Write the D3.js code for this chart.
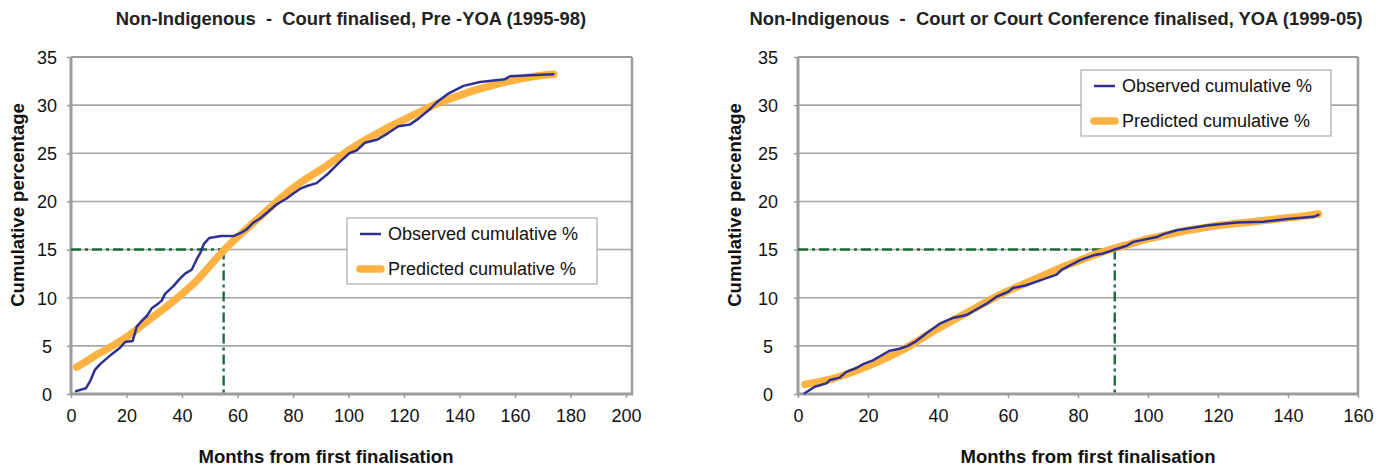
<!DOCTYPE html>
<html><head><meta charset="utf-8">
<script src="https://cdn.jsdelivr.net/npm/d3@7"></script>
<style>body{margin:0;background:#fff}svg{display:block}</style>
</head><body>
<svg id="c" width="1386" height="466"></svg>
<script>
// ---------- DATA ----------
const leftTitle = "Non-Indigenous  -  Court finalised, Pre -YOA (1995-98)";
const rightTitle = "Non-Indigenous  -  Court or Court Conference finalised, YOA (1999-05)";
const xLabel = "Months from first finalisation";
const yLabel = "Cumulative percentage";
const seriesNames = ["Observed cumulative %", "Predicted cumulative %"];

const leftXTicks = [0, 20, 40, 60, 80, 100, 120, 140, 160, 180, 200];
const rightXTicks = [0, 20, 40, 60, 80, 100, 120, 140, 160];
const yTicks = [0, 5, 10, 15, 20, 25, 30, 35];

const leftObsMonths = [1.8,5.4,7,8.6,10.5,12.9,15,17.7,19.5,22.2,23.7,25.5,27.3,29.1,31,32.7,33.9,36.9,39,41.1,43.5,45.3,46.5,47.9,49.8,54,58.5,61,63.3,65.7,68,70.5,74.1,77.7,80,82.5,85,88.5,92.7,96.9,100.3,103,105.9,110.2,114.3,118,122.2,125.2,129.4,131.8,136,141.4,147.4,156.4,158.2,165.4,173.8];
const leftObsValues = [0.3,0.6,1.4,2.5,3.1,3.7,4.2,4.8,5.4,5.5,7.0,7.6,8.1,8.9,9.3,9.7,10.4,11.2,11.9,12.5,12.9,14.0,14.6,15.6,16.2,16.4,16.4,16.7,17.1,17.8,18.2,18.8,19.7,20.3,20.8,21.3,21.6,21.9,22.9,24.1,25.0,25.3,26.1,26.4,27.1,27.8,28.0,28.6,29.6,30.3,31.2,32.0,32.4,32.7,33.0,33.1,33.2];
const leftPredMonths = [2,5,10,15,20,25,30,35,40,45,50,55,60,65,70,75,80,85,90,95,100,105,110,115,120,125,130,135,140,145,150,155,160,165,170,174];
const leftPredValues = [2.8,3.3,4.2,5.0,5.9,7.0,8.1,9.2,10.4,11.7,13.3,14.9,16.3,17.6,18.9,20.2,21.4,22.4,23.3,24.3,25.3,26.2,27.0,27.8,28.5,29.2,29.9,30.5,31.0,31.5,31.9,32.3,32.6,32.9,33.1,33.2];

const rightObsMonths = [1.9,4.8,8.1,9.1,11.9,13.8,16.7,18.6,21.4,23.8,26.2,29,31.4,33.8,36.7,40.5,44.3,48.1,51,53.8,56.7,60,61.4,65.2,70,73.9,75.3,80.6,84.4,87.2,90.1,93.9,95.8,102.5,104.4,108.2,116.8,125.3,133,140.6,147.2,148.7];
const rightObsValues = [0.07,0.76,1.1,1.45,1.7,2.3,2.7,3.1,3.5,4.0,4.5,4.7,5.0,5.5,6.3,7.3,7.9,8.2,8.8,9.35,10.1,10.6,11.0,11.3,11.9,12.4,12.9,13.9,14.4,14.6,14.95,15.4,15.8,16.3,16.6,17.0,17.5,17.8,17.9,18.2,18.4,18.6];
const rightPredMonths = [2,5,10,15,20,25,30,35,40,45,50,55,60,65,70,75,80,85,90,95,100,105,110,115,120,125,130,135,140,145,148.7];
const rightPredValues = [1.0,1.2,1.6,2.2,2.9,3.7,4.6,5.7,6.8,7.8,8.8,9.8,10.7,11.5,12.3,13.1,13.8,14.5,15.1,15.6,16.1,16.5,16.9,17.2,17.5,17.7,17.9,18.1,18.3,18.5,18.7];

const refLevel = 15;
const leftRefMonth = 55;
const rightRefMonth = 90.5;

// ---------- DRAW ----------
const svg = d3.select("#c");
const FONT = "Arial, 'Liberation Sans', sans-serif";
const C_OBS = "#2e3192", C_PRED = "#fdb241", C_REF = "#1d6b3a", C_GRID = "#a6a6a6", C_AXIS = "#9c9c9c";

function chart(cfg) {
  const x = d3.scaleLinear().domain([0, cfg.xMax]).range([cfg.x0, cfg.x1]);
  const y = d3.scaleLinear().domain([0, 35]).range([394, 57]);
  const g = svg.append("g");

  // gridlines
  g.append("g").selectAll("line").data(yTicks.filter(d => d > 0)).join("line")
    .attr("x1", cfg.x0).attr("x2", cfg.xr).attr("y1", d => y(d)).attr("y2", d => y(d))
    .attr("stroke", C_GRID).attr("stroke-width", 1.6);
  // right / top border
  g.append("line").attr("x1", cfg.xr).attr("x2", cfg.xr).attr("y1", y(35)).attr("y2", y(0))
    .attr("stroke", C_AXIS).attr("stroke-width", 2.5);
  g.append("line").attr("x1", cfg.x0).attr("x2", cfg.xr).attr("y1", y(35)).attr("y2", y(35))
    .attr("stroke", C_AXIS).attr("stroke-width", 2);

  // axes
  const xa = g.append("g").attr("transform", `translate(0,${y(0)})`)
    .call(d3.axisBottom(x).tickValues(cfg.xTicks).tickSize(4).tickPadding(10).tickFormat(d3.format("d")));
  xa.select(".domain").remove();
  xa.selectAll(".tick line").attr("stroke", C_AXIS).attr("stroke-width", 1.5);
  xa.selectAll("text").attr("font-family", FONT).attr("font-size", 18).attr("fill", "#111").attr("dy", "0.78em");
  g.append("line").attr("x1", cfg.x0 - 1).attr("x2", cfg.xr + 1).attr("y1", y(0)).attr("y2", y(0))
    .attr("stroke", C_AXIS).attr("stroke-width", 3);

  const ya = g.append("g").attr("transform", `translate(${cfg.x0},0)`)
    .call(d3.axisLeft(y).tickValues(yTicks).tickSize(4).tickFormat(d3.format("d")));
  ya.select(".domain").remove();
  ya.selectAll(".tick line").attr("stroke", C_AXIS).attr("stroke-width", 1.5);
  ya.selectAll("text").attr("font-family", FONT).attr("font-size", 18).attr("fill", "#111")
    .attr("text-anchor", "middle").attr("x", cfg.yLabX - cfg.x0).attr("dy", "0.35em");
  g.append("line").attr("x1", cfg.x0).attr("x2", cfg.x0).attr("y1", y(35)).attr("y2", y(0) + 1)
    .attr("stroke", C_AXIS).attr("stroke-width", 3);

  // reference dashed lines
  const dash = "10,4,3,4";
  g.append("line").attr("x1", x(0)).attr("x2", x(cfg.refMonth)).attr("y1", y(refLevel)).attr("y2", y(refLevel))
    .attr("stroke", C_REF).attr("stroke-width", 2.4).attr("stroke-dasharray", dash);
  g.append("line").attr("x1", x(cfg.refMonth)).attr("x2", x(cfg.refMonth)).attr("y1", y(refLevel)).attr("y2", y(0))
    .attr("stroke", C_REF).attr("stroke-width", 2.4).attr("stroke-dasharray", dash);

  // series
  const pred = cfg.predM.map((m, i) => [m, cfg.predV[i]]);
  const obs = cfg.obsM.map((m, i) => [m, cfg.obsV[i]]);
  g.append("path").datum(pred)
    .attr("d", d3.line().x(d => x(d[0])).y(d => y(d[1])).curve(d3.curveMonotoneX))
    .attr("fill", "none").attr("stroke", C_PRED).attr("stroke-width", 7.5)
    .attr("stroke-linecap", "round").attr("stroke-linejoin", "round");
  g.append("path").datum(obs)
    .attr("d", d3.line().x(d => x(d[0])).y(d => y(d[1])))
    .attr("fill", "none").attr("stroke", C_OBS).attr("stroke-width", 2.5)
    .attr("stroke-linejoin", "round").attr("stroke-linecap", "round");

  // legend
  const L = cfg.legend;
  const lg = g.append("g");
  lg.append("rect").attr("x", L.x).attr("y", L.y).attr("width", 250).attr("height", 66)
    .attr("fill", "#fff").attr("stroke", "#aaaaaa").attr("stroke-width", 1.2);
  const items = [{n: seriesNames[0], c: C_OBS, w: 2.5}, {n: seriesNames[1], c: C_PRED, w: 7.5}];
  items.forEach((it, i) => {
    const yy = L.y + 16 + i * 35;
    lg.append("line").attr("x1", L.x + 13).attr("x2", L.x + 34).attr("y1", yy).attr("y2", yy)
      .attr("stroke", it.c).attr("stroke-width", it.w).attr("stroke-linecap", i ? "round" : "butt");
    lg.append("text").attr("x", L.x + 41).attr("y", yy).attr("dy", "0.35em")
      .attr("font-family", FONT).attr("font-size", 18).attr("fill", "#111").text(it.n);
  });

  // titles and labels
  svg.append("text").attr("x", cfg.titleX).attr("y", 25).attr("text-anchor", "middle")
    .style("white-space", "pre")
    .attr("font-family", FONT).attr("font-weight", "bold")
    .attr("font-size", 18.4).attr("fill", "#222").text(cfg.title);
  svg.append("text").attr("x", cfg.xLabelX).attr("y", 463).attr("text-anchor", "middle")
    .attr("font-family", FONT).attr("font-weight", "bold").attr("font-size", 18.5).attr("fill", "#111")
    .text(xLabel);
  svg.append("text").attr("transform", `translate(${cfg.yTitleX},205) rotate(-90)`).attr("text-anchor", "middle")
    .attr("font-family", FONT).attr("font-weight", "bold").attr("font-size", 18.5).attr("fill", "#111")
    .text(yLabel);
}

chart({x0: 71, x1: 626, xr: 632, xMax: 200, xTicks: leftXTicks, yLabX: 47,
  obsM: leftObsMonths, obsV: leftObsValues, predM: leftPredMonths, predV: leftPredValues,
  refMonth: leftRefMonth, legend: {x: 347, y: 218},
  title: leftTitle, titleX: 351, xLabelX: 326, yTitleX: 24});

chart({x0: 798, x1: 1358, xr: 1358, xMax: 160, xTicks: rightXTicks, yLabX: 768,
  obsM: rightObsMonths, obsV: rightObsValues, predM: rightPredMonths, predV: rightPredValues,
  refMonth: rightRefMonth, legend: {x: 1081, y: 70},
  title: rightTitle, titleX: 1056, xLabelX: 1088, yTitleX: 741});
</script>
</body></html>
